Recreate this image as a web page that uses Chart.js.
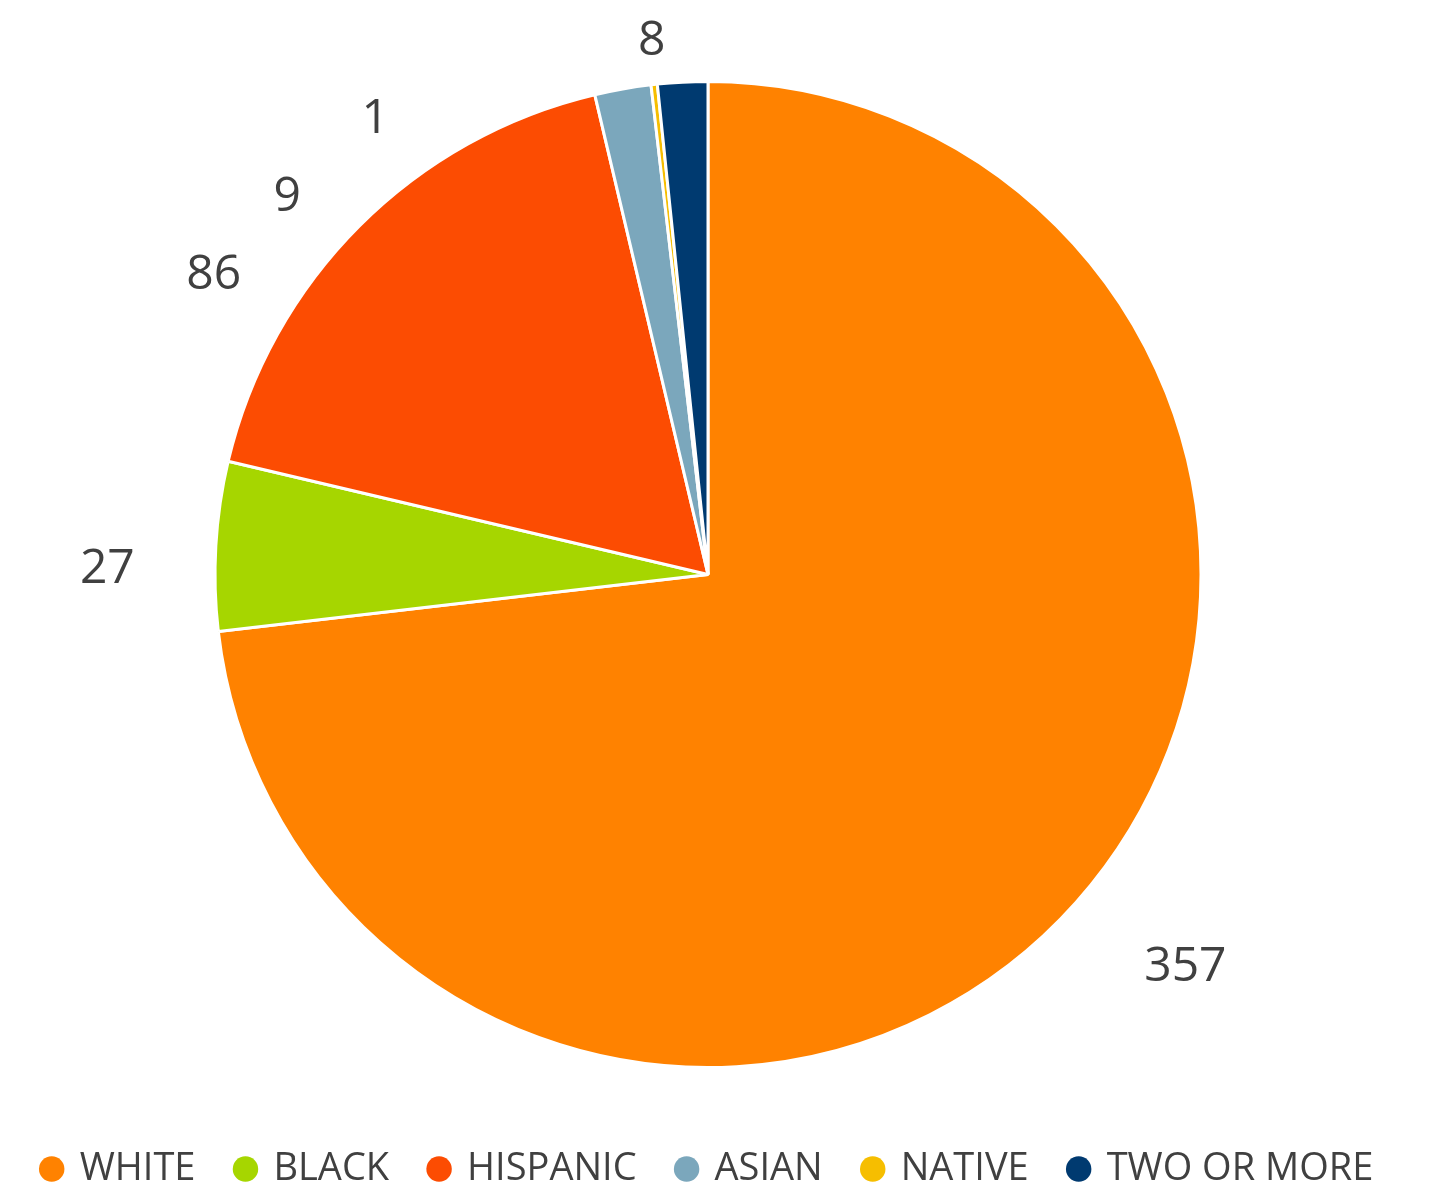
<!DOCTYPE html>
<html>
<head>
<meta charset="utf-8">
<script src="https://cdn.jsdelivr.net/npm/chart.js@4/dist/chart.umd.min.js"></script>
<style>
  html, body { margin: 0; padding: 0; background: #fff; }
  #wrap { width: 1440px; height: 1198px; position: relative; }
</style>
</head>
<body>
<div id="wrap"><canvas id="raceChart"></canvas></div>
<script>
const categories = ['WHITE', 'BLACK', 'HISPANIC', 'ASIAN', 'NATIVE', 'TWO OR MORE'];
const counts = [357, 27, 86, 9, 1, 8];
const colors = ['#FF8200', '#A6D600', '#FC4C02', '#7BA7BC', '#F6BE00', '#003A70'];

const textColor = '#404040';
const fontFamily = "'Open Sans', sans-serif";

// value labels outside the pie, stacked when they would collide
const outsideLabels = {
    id: 'outsideLabels',
    afterDatasetsDraw(chart, args, opts) {
        const ctx = chart.ctx;
        const meta = chart.getDatasetMeta(0);
        const data = chart.data.datasets[0].data;
        ctx.save();
        ctx.font = opts.size + 'px ' + fontFamily;
        const hh = opts.size * 0.36;
        const shift = opts.shift * Math.PI / 180;
        const items = meta.data.map((arc, i) => {
            const p = arc.getProps(['x', 'y', 'startAngle', 'endAngle', 'outerRadius'], true);
            const a = (p.startAngle + p.endAngle) / 2 + shift;
            const text = String(data[i]);
            const hw = ctx.measureText(text).width / 2;
            const cos = Math.cos(a), sin = Math.sin(a);
            const extra = Math.abs(cos) * hw + Math.abs(sin) * hh;
            const rho = p.outerRadius + opts.gap + extra;
            return {
                text, a, cos, cx: p.x, cy: p.y,
                x: p.x + rho * cos, y: p.y + rho * sin,
                r2: p.outerRadius + opts.gap2 + extra
            };
        });
        const minY = opts.top + hh;
        const left = items.filter(t => t.cos < 0).sort((u, v) => v.a - u.a);
        const right = items.filter(t => t.cos >= 0).sort((u, v) => u.a - v.a);
        [left, right].forEach(side => {
            let prev = -Infinity;
            side.forEach(t => {
                let y = Math.max(t.y, minY);
                if (y < prev + opts.lineGap) {
                    y = prev + opts.lineGap;
                    const dy = t.cy - y;
                    const dx = Math.sqrt(Math.max(t.r2 * t.r2 - dy * dy, 0));
                    t.x = t.cx + (t.cos < 0 ? -dx : dx);
                }
                t.y = y;
                prev = y;
            });
        });
        ctx.fillStyle = opts.color;
        ctx.textAlign = 'center';
        ctx.textBaseline = 'alphabetic';
        items.forEach(t => ctx.fillText(t.text, t.x, t.y + hh));
        ctx.restore();
    }
};

const baseLabels = Chart.overrides.doughnut.plugins.legend.labels.generateLabels;

new Chart(document.getElementById('raceChart'), {
    type: 'pie',
    data: {
        labels: categories,
        datasets: [{
            data: counts,
            backgroundColor: colors,
            borderColor: '#ffffff',
            borderWidth: 3,
            radius: 493
        }]
    },
    plugins: [outsideLabels],
    options: {
        responsive: true,
        maintainAspectRatio: false,
        animation: false,
        layout: {
            padding: {top: 40, right: 24, bottom: 0, left: 0}
        },
        plugins: {
            tooltip: {enabled: false},
            legend: {
                display: true,
                position: 'bottom',
                labels: {
                    usePointStyle: true,
                    pointStyle: 'circle',
                    boxWidth: 18,
                    boxHeight: 18,
                    padding: 41,
                    color: textColor,
                    font: {size: 38, family: fontFamily},
                    generateLabels: chart => baseLabels(chart).map(l => Object.assign(l, {lineWidth: 0}))
                }
            },
            outsideLabels: {
                size: 48,
                color: textColor,
                shift: -2.5,
                gap: 80,
                gap2: 55,
                top: 20,
                lineGap: 78
            }
        }
    }
});
</script>
</body>
</html>
